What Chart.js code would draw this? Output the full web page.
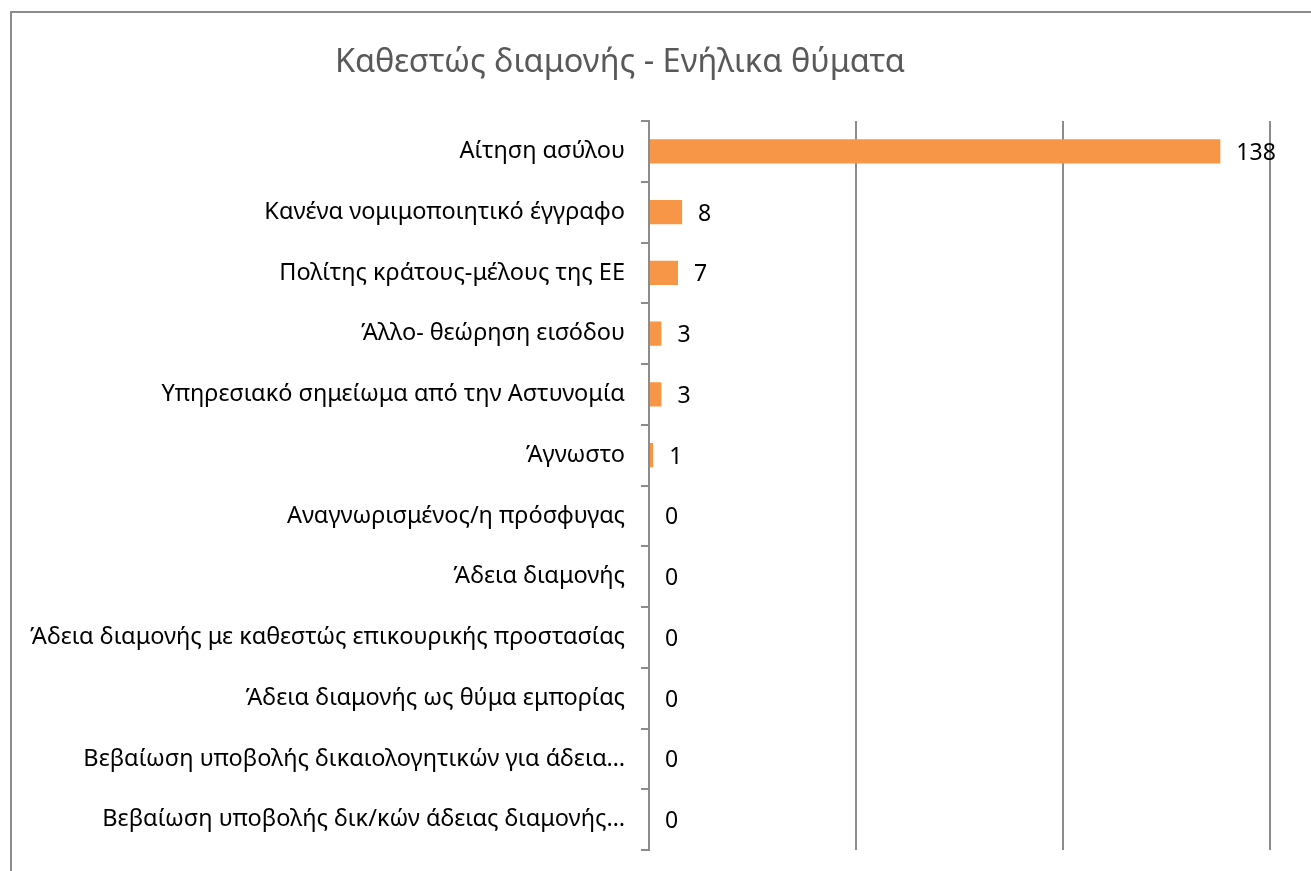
<!DOCTYPE html>
<html>
<head>
<meta charset="utf-8">
<script src="https://cdn.jsdelivr.net/npm/chart.js@4/dist/chart.umd.min.js"></script>
<style>
  body { margin: 0; background: #fff; overflow: hidden; }
  #frame { position: absolute; left: 10px; top: 11px; width: 1320px; height: 880px;
           border-top: 2px solid #8c8c8c; border-left: 2px solid #8c8c8c; }
  #chart { position: absolute; left: 0; top: 0; }
</style>
</head>
<body>
<div id="frame"></div>
<canvas id="chart" width="1311" height="871"></canvas>
<script>
// categories and values, top to bottom
const categories = [
    'Αίτηση ασύλου',
    'Κανένα νομιμοποιητικό έγγραφο',
    'Πολίτης κράτους-μέλους της ΕΕ',
    'Άλλο- θεώρηση εισόδου',
    'Υπηρεσιακό σημείωμα από την Αστυνομία',
    'Άγνωστο',
    'Αναγνωρισμένος/η πρόσφυγας',
    'Άδεια διαμονής',
    'Άδεια διαμονής με καθεστώς επικουρικής προστασίας',
    'Άδεια διαμονής ως θύμα εμπορίας',
    'Βεβαίωση υποβολής δικαιολογητικών για άδεια…',
    'Βεβαίωση υποβολής δικ/κών άδειας διαμονής…'
];
const victims = [138, 8, 7, 3, 3, 1, 0, 0, 0, 0, 0, 0];
const xTicks = [0, 50, 100, 150];

const labelFont = "'Noto Sans', sans-serif";

// value labels to the right of each bar
const valueLabels = {
    id: 'valueLabels',
    afterDatasetsDraw(chart) {
        const ctx = chart.ctx;
        const meta = chart.getDatasetMeta(0);
        ctx.save();
        ctx.fillStyle = '#000';
        ctx.font = '23px ' + labelFont;
        ctx.textAlign = 'left';
        ctx.textBaseline = 'middle';
        meta.data.forEach((bar, i) => {
            ctx.fillText(String(victims[i]), bar.x + 16, bar.y + 2);
        });
        ctx.restore();
    }
};

const ctx = document.getElementById('chart').getContext('2d');
new Chart(ctx, {
    type: 'bar',
    data: {
        labels: categories,
        datasets: [{
            data: victims,
            backgroundColor: '#F79646',
            borderWidth: 0,
            categoryPercentage: 0.8,
            barPercentage: 0.5
        }]
    },
    options: {
        indexAxis: 'y',
        responsive: false,
        animation: false,
        devicePixelRatio: 1,
        layout: { padding: { left: -30, right: 41, top: 0, bottom: 21 } },
        plugins: {
            legend: { display: false },
            tooltip: { enabled: false },
            title: {
                display: true,
                text: 'Καθεστώς διαμονής - Ενήλικα θύματα',
                color: '#595959',
                font: { family: labelFont, size: 32.5, weight: 'normal' },
                padding: { top: 43, bottom: 39 }
            }
        },
        scales: {
            x: {
                min: 0,
                max: 150,
                afterBuildTicks(scale) { scale.ticks = xTicks.map(v => ({ value: v })); },
                afterFit(scale) { scale.height = 0; },
                ticks: { display: false },
                grid: { color: '#8c8c8c', lineWidth: 2, drawTicks: false },
                border: { display: false }
            },
            y: {
                afterFit(scale) {
                    scale.width = 679;
                    scale.paddingTop = 0;
                    scale.paddingBottom = 0;
                },
                ticks: { color: '#000', font: { family: labelFont, size: 23.5 }, padding: 16 },
                grid: { offset: true, drawOnChartArea: false, color: '#8c8c8c', lineWidth: 2, tickLength: 8 },
                border: { color: '#8c8c8c', width: 2 }
            }
        }
    },
    plugins: [valueLabels]
});
</script>
</body>
</html>
